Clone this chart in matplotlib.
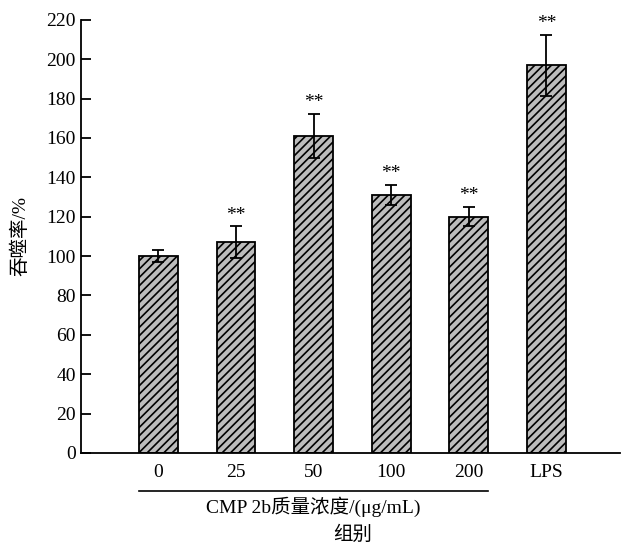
"""Phagocytosis rate bar chart"""

import matplotlib
matplotlib.use("Agg")
import matplotlib.pyplot as plt
from matplotlib.transforms import blended_transform_factory

plt.rcParams["font.family"] = ["Liberation Serif", "Noto Sans CJK SC"]
plt.rcParams["hatch.linewidth"] = 1.2

groups = ["0", "25", "50", "100", "200", "LPS"]
rates = [100, 107, 161, 131, 120, 197]
errors = [3, 8, 11, 5, 5, 15.5]
marks = ["", "**", "**", "**", "**", "**"]

fig = plt.figure(figsize=(6.22, 5.49), dpi=100)
ax = fig.add_axes([0.130, 0.175, 0.867, 0.789])

xs = list(range(len(groups)))
ax.bar(xs, rates, width=0.5, color="#bcbcbc", edgecolor="black",
       linewidth=1.3, hatch="////", zorder=2)
ax.errorbar(xs, rates, yerr=errors, fmt="none", ecolor="black",
            elinewidth=1.3, capsize=4, capthick=1.3, zorder=3)
for x, r, e, m in zip(xs, rates, errors, marks):
    if m:
        ax.text(x, r + e + 1.5, m, ha="center", va="bottom", fontsize=14)

ax.set_xlim(-1.0, 5.95)
ax.set_ylim(0, 220)
ax.set_yticks(range(0, 221, 20))
ax.set_xticks(xs)
ax.set_xticklabels(groups)
ax.tick_params(axis="y", direction="in", length=7, width=1.3, labelsize=14)
ax.tick_params(axis="x", length=0, labelsize=14, pad=8)
for side in ["top", "right"]:
    ax.spines[side].set_visible(False)
for side in ["left", "bottom"]:
    ax.spines[side].set_linewidth(1.3)

ax.set_ylabel("吞噬率/%", fontsize=14, labelpad=12)

trans = blended_transform_factory(ax.transData, ax.transAxes)
ax.plot([-0.25, 4.25], [-0.088, -0.088], transform=trans, color="black",
        linewidth=1.2, clip_on=False)
ax.text(2.0, -0.125, "CMP 2b质量浓度/(μg/mL)", transform=trans,
        ha="center", va="center", fontsize=14)
ax.text(2.5, -0.19, "组别", transform=trans, ha="center", va="center",
        fontsize=14)

fig.savefig("out.png", dpi=100)
